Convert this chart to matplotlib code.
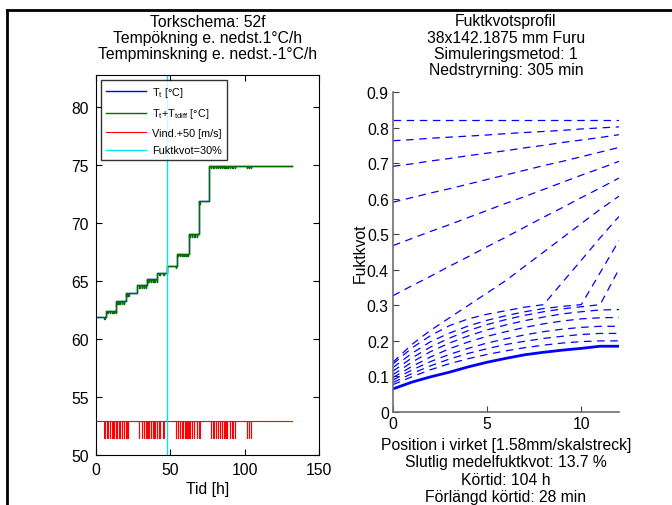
import numpy as np
import matplotlib.pyplot as plt
from matplotlib.lines import Line2D

plt.rcParams['font.family'] = ['Liberation Sans', 'DejaVu Sans']
plt.rcParams['mathtext.fontset'] = 'custom'
plt.rcParams['mathtext.rm'] = 'Liberation Sans'
plt.rcParams['font.size'] = 11.3

# --- vänster: temperaturschema ---
stepTimes = [0, 6.7, 13.4, 20.2, 27.4, 34.5, 41.2, 48.0, 54.7, 62.3, 69.0, 76.0, 131.6]
stepTemps = [61.9, 62.45, 63.25, 63.95, 64.65, 65.15, 65.75, 66.3, 67.35, 69.05, 71.9, 74.95]
windLevel = 52.9
windLow = 51.45
windDips = [5.6, 7.6, 9.4, 11.0, 12.1, 13.2, 14.3, 15.7, 17.3, 18.8, 20.4, 21.7,
            29.1, 30.7, 32.3, 33.4, 34.5, 35.6, 36.8, 38.1, 39.2, 40.8, 42.6, 45.3,
            53.6, 54.9, 56.5, 57.6, 58.7, 60.1, 61.4, 62.8, 64.4, 66.1, 67.7, 69.5,
            77.3, 78.9, 80.5, 82.0, 83.4, 84.7, 85.8, 87.0, 88.3, 90.1, 91.7, 93.5,
            101.3, 102.7, 104.0]
tdiffDip = 0.2
fsp30Time = 48.0

# --- höger: fuktkvotsprofiler ---
position = [0, 1, 2, 3, 4, 5, 6, 7, 8, 9, 10, 11, 12]
profiles = [
    [0.82, 0.82, 0.82, 0.82, 0.82, 0.82, 0.82, 0.82, 0.82, 0.82, 0.82, 0.82, 0.82],
    [0.763, 0.766, 0.770, 0.773, 0.776, 0.779, 0.783, 0.786, 0.789, 0.792, 0.796, 0.799, 0.802],
    [0.691, 0.698, 0.706, 0.713, 0.721, 0.728, 0.735, 0.743, 0.750, 0.758, 0.765, 0.772, 0.780],
    [0.590, 0.603, 0.616, 0.628, 0.641, 0.654, 0.667, 0.680, 0.693, 0.705, 0.718, 0.731, 0.744],
    [0.468, 0.488, 0.508, 0.527, 0.547, 0.567, 0.587, 0.606, 0.626, 0.646, 0.666, 0.685, 0.705],
    [0.327, 0.355, 0.382, 0.410, 0.437, 0.465, 0.492, 0.520, 0.548, 0.575, 0.603, 0.630, 0.658],
    [0.140, 0.190, 0.230, 0.265, 0.300, 0.335, 0.370, 0.410, 0.450, 0.490, 0.530, 0.570, 0.607],
    [0.135, 0.180, 0.215, 0.243, 0.262, 0.275, 0.285, 0.295, 0.302, 0.365, 0.427, 0.490, 0.550],
    [0.125, 0.165, 0.198, 0.222, 0.242, 0.258, 0.271, 0.282, 0.291, 0.297, 0.302, 0.392, 0.482],
    [0.115, 0.152, 0.183, 0.208, 0.229, 0.246, 0.260, 0.272, 0.282, 0.290, 0.296, 0.302, 0.402],
    [0.105, 0.140, 0.170, 0.194, 0.214, 0.231, 0.245, 0.257, 0.267, 0.276, 0.282, 0.287, 0.288],
    [0.097, 0.128, 0.155, 0.178, 0.197, 0.213, 0.226, 0.238, 0.248, 0.256, 0.262, 0.265, 0.266],
    [0.090, 0.118, 0.142, 0.162, 0.179, 0.194, 0.206, 0.217, 0.226, 0.233, 0.238, 0.241, 0.241],
    [0.083, 0.108, 0.130, 0.149, 0.165, 0.178, 0.190, 0.199, 0.207, 0.213, 0.218, 0.221, 0.221],
    [0.077, 0.099, 0.119, 0.136, 0.150, 0.162, 0.172, 0.181, 0.188, 0.194, 0.198, 0.200, 0.200],
]
finalProfile = [0.065, 0.084, 0.099, 0.112, 0.127, 0.140, 0.151, 0.161, 0.168, 0.174, 0.179, 0.185, 0.185]

leftTitle = 'Torkschema: 52f\nTempökning e. nedst.1°C/h\nTempminskning e. nedst.-1°C/h'
rightTitle = 'Fuktkvotsprofil\n38x142.1875 mm Furu\nSimuleringsmetod: 1\nNedstryrning: 305 min'
rightXlabel = ('Position i virket [1.58mm/skalstreck]\nSlutlig medelfuktkvot: 13.7 %\n'
               'Körtid: 104 h\nFörlängd körtid: 28 min')

fig = plt.figure(figsize=(6.72, 5.06), dpi=100)

# ram runt figuren
fig.add_artist(Line2D([7/672, 7/672], [0, 1 - 11/506], color='black', lw=2))
fig.add_artist(Line2D([7/672, 1], [1 - 11/506, 1 - 11/506], color='black', lw=2))

ax1 = fig.add_axes([96/672, 1 - 456/506, 223/672, 380/506])
ax2 = fig.add_axes([393/672, 1 - 413/506, 226/672, 320/506])

# temperaturkurvor
st = np.array(stepTimes)
sv = np.array(stepTemps + [stepTemps[-1]])
ax1.step(st, sv, where='post', color='#0000ff', lw=1.0, label='T$_\\mathrm{t}$ [°C]')

gx, gy, rx, ry = [], [], [0.0], [windLevel]
for i in range(len(stepTimes) - 1):
    t0, t1 = stepTimes[i], stepTimes[i + 1]
    v = stepTemps[i]
    gx.append(t0)
    gy.append(v)
    for d in windDips:
        if t0 <= d < t1:
            gx += [d, d, d + 0.3, d + 0.3]
            gy += [v, v - tdiffDip, v - tdiffDip, v]
    gx.append(t1)
    gy.append(v)
for d in windDips:
    rx += [d, d, d + 0.15, d + 0.15]
    ry += [windLevel, windLow, windLow, windLevel]
rx.append(stepTimes[-1])
ry.append(windLevel)

ax1.plot(gx, gy, color='#006e00', lw=1.0, label='T$_\\mathrm{t}$+T$_\\mathrm{tdiff}$ [°C]')
ax1.plot(rx, ry, color='#ff0000', lw=0.8, label='Vind.+50 [m/s]')
ax1.axvline(fsp30Time, color='#00e5ee', lw=1.0, label='Fuktkvot=30%')

ax1.set_xlim(0, 150)
ax1.set_ylim(50, 82.8)
ax1.set_xticks([0, 50, 100, 150])
ax1.set_yticks([50, 55, 60, 65, 70, 75, 80])
ax1.tick_params(direction='in', top=True, right=True, length=4, pad=5)
ax1.set_xlabel('Tid [h]', labelpad=3)
ax1.set_title(leftTitle, fontsize=11.3, pad=12.5, linespacing=1.07)
leg = ax1.legend(loc='upper left', bbox_to_anchor=(0.0, 1.0), fontsize=7.8,
                 frameon=True, fancybox=False, edgecolor='black', handlelength=3.7,
                 borderpad=0.45, labelspacing=0.7, handletextpad=0.6, borderaxespad=0.45)
leg.get_frame().set_linewidth(1.0)

# fuktkvotsprofiler
for p in profiles:
    ax2.plot(position, p, color='#0000ff', lw=0.9, linestyle=(0, (6, 4.5)))
ax2.plot(position, finalProfile, color='#0000ff', lw=2.0)

ax2.set_xlim(0, 12)
ax2.set_ylim(0, 0.9)
ax2.set_xticks([0, 5, 10])
ax2.set_yticks(np.arange(0, 0.91, 0.1))
ax2.set_yticklabels(['0', '0.1', '0.2', '0.3', '0.4', '0.5', '0.6', '0.7', '0.8', '0.9'])
ax2.spines['top'].set_visible(False)
ax2.spines['right'].set_visible(False)
for s in ['left', 'bottom']:
    ax2.spines[s].set_color('#6e6e6e')
    ax2.spines[s].set_linewidth(1.2)
ax2.tick_params(direction='in', length=4, color='#404040', pad=3)
ax2.set_ylabel('Fuktkvot', labelpad=-1)
ax2.set_xlabel(rightXlabel, labelpad=4, linespacing=1.2)
ax2.set_title(rightTitle, fontsize=11.3, pad=13, linespacing=1.1)

fig.savefig('out.png', dpi=100)
